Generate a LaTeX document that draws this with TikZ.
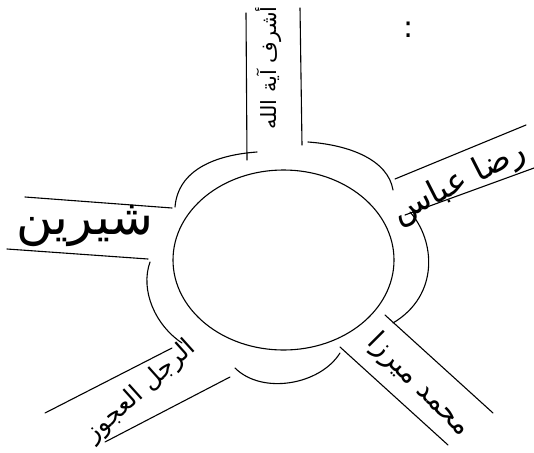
\documentclass[tikz,border=0pt]{standalone}
\usepackage{fontspec}
\usetikzlibrary{shapes.geometric}
\newfontfamily\arabicfont[Script=Arabic]{DejaVu Sans}
\newfontfamily\plainfont{DejaVu Sans}
\TeXXeTstate=1
\begin{document}
\begin{tikzpicture}[x=1pt,y=-1pt,
  edge/.style={line width=1.1pt,line cap=round},
  lbl/.style={inner sep=0pt,font=\arabicfont}]
\useasboundingbox (0,0) rectangle (534,452);
% centre ellipse
\node[draw,line width=1.1pt,ellipse,minimum width=221pt,minimum height=180pt] (core) at (283.5,260) {};
% cloud lobes
\coordinate (tl1) at (175,207); \coordinate (tl2) at (257,152);
\coordinate (tr1) at (308,142); \coordinate (tr2) at (393,190);
\coordinate (r1) at (410,212);  \coordinate (r2) at (393,323);
\coordinate (b1) at (340,353);  \coordinate (b2) at (235,368);
\coordinate (bl1) at (182,343); \coordinate (bl2) at (150,262);
\draw[edge] (tl1) .. controls (178,170) and (215,155) .. (tl2);
\draw[edge] (tr1) .. controls (350,145) and (388,160) .. (tr2);
\draw[edge] (r1) .. controls (435,240) and (440,295) .. (r2);
\draw[edge] (b1) .. controls (320,385) and (262,395) .. (b2);
\draw[edge] (bl1) .. controls (155,325) and (140,290) .. (bl2);
% arms
\coordinate (ta1) at (246,13);  \coordinate (ta2) at (247,160);
\coordinate (tb1) at (300,8);   \coordinate (tb2) at (302,145);
\coordinate (ra1) at (395,179); \coordinate (ra2) at (526,125);
\coordinate (rb1) at (405,215); \coordinate (rb2) at (534,168);
\coordinate (ba1) at (385,315); \coordinate (ba2) at (493,413);
\coordinate (bb1) at (340,347); \coordinate (bb2) at (448,445);
\coordinate (la1) at (45,413);  \coordinate (la2) at (172,348);
\coordinate (lb1) at (105,442); \coordinate (lb2) at (230,377);
\coordinate (ea1) at (25,197);  \coordinate (ea2) at (172,208);
\coordinate (eb1) at (7,249);   \coordinate (eb2) at (148,259);
\foreach \p in {ta,tb,ra,rb,ba,bb,la,lb,ea,eb}
  \draw[edge] (\p1) -- (\p2);
% labels
\node[lbl,font=\arabicfont\fontsize{21}{24}\selectfont,rotate=90] (t1) at (269,68) {\beginR أشرف آية الله\endR};
\node[lbl,font=\arabicfont\fontsize{33}{38}\selectfont,rotate=27] (t2) at (459,183) {\beginR رضا عباس\endR};
\node[lbl,font=\arabicfont\fontsize{28}{32}\selectfont,rotate=-45] (t3) at (419,385) {\beginR محمد ميرزا\endR};
\node[lbl,font=\arabicfont\fontsize{25}{28}\selectfont,rotate=42] (t4) at (141,391) {\beginR الرجل العجوز\endR};
\node[lbl,font=\arabicfont\fontsize{50}{56}\selectfont] (t5) at (85,226) {\beginR شيرين\endR};
\node[lbl,font=\plainfont\fontsize{30}{34}\selectfont] (colon) at (409,30) {:};
\end{tikzpicture}
\end{document}
